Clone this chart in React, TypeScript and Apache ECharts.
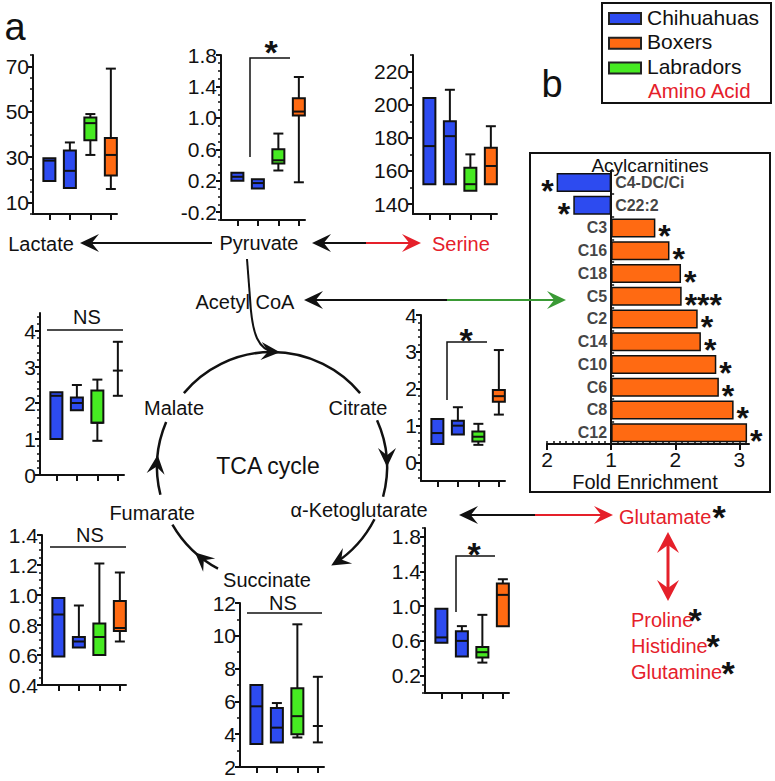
import React, { useEffect, useRef } from "react";
import * as echarts from "echarts";

const FONT = "'Liberation Sans', Arial, Helvetica, sans-serif";
const K = "#111111";
const RED = "#e5202a";
const GREEN_ARROW = "#3a9a35";

// Breed colours: Chihuahuas, Boxers, Labradors
const breedNames = ["Chihuahuas", "Boxers", "Labradors"];
const breedColors = ["#2d4bf0", "#ff6a12", "#46ea22"];

// Box plots: [slot, min, q1, median, q3, max, colourIndex]  (colourIndex -1 = whisker only)
const lactateBoxes = [
  [1, 19.5, 19.5, 28.5, 29.5, 29.5, 0],
  [2, 16.5, 16.5, 24, 33, 36.5, 0],
  [3, 31, 37.5, 45, 47.5, 49, 2],
  [4, 16, 22, 31, 38.5, 69, 1],
];
const pyruvateBoxes = [
  [1, 0.2, 0.2, 0.25, 0.3, 0.3, 0],
  [2, 0.1, 0.1, 0.17, 0.22, 0.22, 0],
  [3, 0.33, 0.42, 0.46, 0.6, 0.8, 2],
  [4, 0.18, 1.03, 1.08, 1.25, 1.52, 1],
];
const serineBoxes = [
  [1, 152, 152, 175, 204, 204, 0],
  [2, 152, 152, 181, 190, 209, 0],
  [3, 148, 148, 152, 162, 170, 2],
  [4, 152, 152, 163, 174, 187, 1],
];
const malateBoxes = [
  [1, 1.0, 1.0, 2.2, 2.3, 2.3, 0],
  [2, 1.8, 1.8, 2.0, 2.15, 2.5, 0],
  [3, 0.95, 1.45, 1.45, 2.35, 2.65, 2],
  [4, 2.2, 2.9, 2.9, 2.9, 3.7, -1],
];
const citrateBoxes = [
  [1, 0.5, 0.5, 0.8, 1.18, 1.18, 0],
  [2, 0.76, 0.76, 1.0, 1.13, 1.5, 0],
  [3, 0.48, 0.57, 0.7, 0.84, 1.05, 2],
  [4, 1.3, 1.65, 1.8, 1.97, 3.05, 1],
];
const fumarateBoxes = [
  [1, 0.59, 0.59, 0.87, 0.98, 0.98, 0],
  [2, 0.65, 0.65, 0.69, 0.72, 0.93, 0],
  [3, 0.6, 0.6, 0.72, 0.81, 1.21, 2],
  [4, 0.69, 0.76, 0.78, 0.96, 1.15, 1],
];
const succinateBoxes = [
  [1, 3.4, 3.4, 5.7, 7.0, 7.0, 0],
  [2, 3.5, 3.5, 4.4, 5.6, 5.9, 0],
  [3, 3.8, 4.0, 5.1, 6.8, 10.7, 2],
  [4, 3.5, 4.5, 4.5, 4.5, 7.5, -1],
];
const akgBoxes = [
  [1, 0.58, 0.58, 0.64, 0.97, 0.97, 0],
  [2, 0.42, 0.42, 0.6, 0.71, 0.77, 0],
  [3, 0.35, 0.41, 0.47, 0.53, 0.9, 2],
  [4, 0.77, 0.77, 1.13, 1.26, 1.31, 1],
];

// Tick labels
const lactateTicks = [10, 30, 50, 70];
const pyruvateTicks = [-0.2, 0.2, 0.6, 1.0, 1.4, 1.8];
const serineTicks = [140, 160, 180, 200, 220];
const malateTicks = [0, 1, 2, 3, 4];
const citrateTicks = [0, 1, 2, 3, 4];
const fumarateTicks = [0.4, 0.6, 0.8, 1.0, 1.2, 1.4];
const succinateTicks = [2, 4, 6, 8, 10, 12];
const akgTicks = [0.2, 0.6, 1.0, 1.4, 1.8];

// Acylcarnitines (negative = decreased, drawn to the left)
const acylNames = ["C4-DC/Ci", "C22:2", "C3", "C16", "C18", "C5", "C2", "C14", "C10", "C6", "C8", "C12"];
const acylFold = [-1.85, -1.59, 1.69, 1.91, 2.09, 2.1, 2.35, 2.4, 2.64, 2.68, 2.91, 3.12];
const acylStars = ["*", "*", "*", "*", "*", "***", "*", "*", "*", "*", "*", "*"];
const foldTicks = [-1, 0, 1, 2];

// layout of the mini panels (pixels)
const panels = [
  { boxes: lactateBoxes, ticks: lactateTicks, min: 5, max: 75, minor: 5, dec: 0, left: 33, top: 55, height: 159 },
  { boxes: pyruvateBoxes, ticks: pyruvateTicks, min: -0.3, max: 1.8, minor: 0.1, dec: 1, left: 221, top: 55, height: 165 },
  { boxes: serineBoxes, ticks: serineTicks, min: 134, max: 230, minor: 10, dec: 0, left: 413, top: 55, height: 159 },
  { boxes: malateBoxes, ticks: malateTicks, min: 0, max: 4.5, minor: 0.2, dec: 0, left: 40, top: 313, height: 162 },
  { boxes: citrateBoxes, ticks: citrateTicks, min: -0.5, max: 4, minor: 0.2, dec: 0, left: 421, top: 315, height: 166 },
  { boxes: fumarateBoxes, ticks: fumarateTicks, min: 0.4, max: 1.4, minor: 0.05, dec: 1, left: 42, top: 535, height: 150 },
  { boxes: succinateBoxes, ticks: succinateTicks, min: 2, max: 12, minor: 1, dec: 0, left: 240, top: 603, height: 164 },
  { boxes: akgBoxes, ticks: akgTicks, min: 0, max: 1.9, minor: 0.1, dec: 1, left: 425, top: 528, height: 165 },
];

function steps(min: number, max: number, step: number) {
  const out: number[] = [];
  const start = Math.ceil(min / step - 1e-6);
  for (let i = start; i * step <= max + 1e-9; i++) out.push(+(i * step).toFixed(4));
  return out;
}

function seg(x1: number, y1: number, x2: number, y2: number, color = K, w = 2) {
  return { type: "line", shape: { x1, y1, x2, y2 }, style: { stroke: color, lineWidth: w }, z: 10 };
}
function head(x: number, y: number, angDeg: number, color = K, L = 19, W = 9) {
  const a = (angDeg * Math.PI) / 180;
  const dx = Math.cos(a), dy = Math.sin(a), px = -dy, py = dx;
  const bx = x - L * dx, by = y - L * dy;
  const nx = x - 0.62 * L * dx, ny = y - 0.62 * L * dy;
  return {
    type: "polygon",
    shape: { points: [[x, y], [bx + W * px, by + W * py], [nx, ny], [bx - W * px, by - W * py]] },
    style: { fill: color },
    z: 11,
  };
}
function txt(x: number, y: number, text: string, o: any = {}) {
  const size = o.size || 20;
  return {
    type: "text",
    x,
    y,
    style: {
      text,
      fill: o.color || K,
      font: `${o.weight || "normal"} ${size}px ${FONT}`,
      textAlign: o.align || "center",
      textVerticalAlign: "middle",
      align: o.align || "center",
      verticalAlign: "middle",
      lineHeight: o.lineHeight,
    },
    z: 12,
  };
}
function star(x: number, y: number, size = 34) {
  return txt(x, y + size * 0.27, "*", { size, weight: "bold", lineHeight: 16 });
}

export default function App() {
  const ref = useRef<HTMLDivElement>(null);
  useEffect(() => {
    if (!ref.current) return;
    const chart = echarts.init(ref.current, null, { renderer: "svg", width: 775, height: 781 });

    const grids: any[] = [];
    const xAxes: any[] = [];
    const yAxes: any[] = [];
    const series: any[] = [];

    panels.forEach((p, i) => {
      grids.push({ left: p.left, top: p.top, width: 84, height: p.height });
      xAxes.push({
        type: "value",
        gridIndex: i,
        position: "bottom",
        min: 0.2,
        max: 4.3,
        axisLine: { show: true, onZero: false, lineStyle: { color: K, width: 2 } },
        axisTick: { show: true, customValues: [1, 2, 3, 4], length: 6, inside: false, lineStyle: { color: K, width: 2 } },
        axisLabel: { show: false },
        splitLine: { show: false },
      });
      const yi = yAxes.length;
      yAxes.push({
        type: "value",
        gridIndex: i,
        position: "left",
        min: p.min,
        max: p.max,
        axisLine: { show: true, onZero: false, lineStyle: { color: K, width: 2 } },
        axisTick: { show: true, customValues: p.ticks, length: 5, lineStyle: { color: K, width: 2 } },
        axisLabel: {
          show: true,
          customValues: p.ticks,
          formatter: (v: number) => v.toFixed(p.dec),
          fontSize: 21,
          fontFamily: FONT,
          color: K,
          margin: 4,
        },
        splitLine: { show: false },
      });
      yAxes.push({
        type: "value",
        gridIndex: i,
        position: "left",
        offset: 0,
        min: p.min,
        max: p.max,
        axisLine: { show: false, onZero: false },
        axisTick: { show: true, customValues: steps(p.min, p.max, p.minor), length: 3, lineStyle: { color: K, width: 1.5 } },
        axisLabel: { show: false },
        splitLine: { show: false },
      });
      series.push({
        type: "custom",
        xAxisIndex: i,
        yAxisIndex: yi,
        clip: false,
        data: p.boxes,
        renderItem: (params: any, api: any) => {
          const slot = api.value(0);
          const lo = api.value(1), q1 = api.value(2), md = api.value(3), q3 = api.value(4), hi = api.value(5);
          const ci = api.value(6);
          const x = api.coord([slot, lo])[0];
          const yLo = api.coord([slot, lo])[1];
          const yQ1 = api.coord([slot, q1])[1];
          const yMd = api.coord([slot, md])[1];
          const yQ3 = api.coord([slot, q3])[1];
          const yHi = api.coord([slot, hi])[1];
          const bw = 12, cw = 10;
          const ls = { stroke: K, lineWidth: 2 };
          const ch: any[] = [];
          if (hi > q3) {
            ch.push({ type: "line", shape: { x1: x, y1: yHi, x2: x, y2: yQ3 }, style: ls });
            ch.push({ type: "line", shape: { x1: x - cw / 2, y1: yHi, x2: x + cw / 2, y2: yHi }, style: ls });
          }
          if (lo < q1) {
            ch.push({ type: "line", shape: { x1: x, y1: yLo, x2: x, y2: yQ1 }, style: ls });
            ch.push({ type: "line", shape: { x1: x - cw / 2, y1: yLo, x2: x + cw / 2, y2: yLo }, style: ls });
          }
          if (ci >= 0) {
            ch.push({
              type: "rect",
              shape: { x: x - bw / 2, y: yQ3, width: bw, height: yQ1 - yQ3 },
              style: { fill: breedColors[ci], stroke: K, lineWidth: 2 },
            });
            ch.push({ type: "line", shape: { x1: x - bw / 2, y1: yMd, x2: x + bw / 2, y2: yMd }, style: ls });
          } else {
            ch.push({ type: "line", shape: { x1: x - cw / 2, y1: yMd, x2: x + cw / 2, y2: yMd }, style: ls });
          }
          return { type: "group", children: ch };
        },
      });
    });

    // Acylcarnitine bar chart
    const gi = grids.length;
    grids.push({ left: 547, top: 171, width: 202, height: 273 });
    const bx = xAxes.length;
    xAxes.push({
      type: "value",
      gridIndex: gi,
      position: "bottom",
      min: -1,
      max: 2.15,
      axisLine: { show: true, onZero: false, lineStyle: { color: K, width: 2 } },
      axisTick: { show: true, customValues: foldTicks, length: 6, lineStyle: { color: K, width: 2 } },
      axisLabel: {
        show: true,
        customValues: foldTicks,
        formatter: (v: number) => String(Math.abs(v) + 1),
        fontSize: 21,
        fontFamily: FONT,
        color: K,
        margin: 5,
      },
      splitLine: { show: false },
    });
    xAxes.push({
      type: "value",
      gridIndex: gi,
      position: "bottom",
      offset: 0,
      min: -1,
      max: 2.15,
      axisLine: { show: false, onZero: false },
      axisTick: { show: true, inside: true, customValues: steps(-1, 2.1, 0.1), length: 3, lineStyle: { color: K, width: 1.5 } },
      axisLabel: { show: false },
      splitLine: { show: false },
    });
    const by = yAxes.length;
    yAxes.push({
      type: "category",
      gridIndex: gi,
      data: acylNames,
      inverse: true,
      axisLine: { show: true, onZero: true, lineStyle: { color: K, width: 2 } },
      axisTick: { show: true, inside: true, length: 3, lineStyle: { color: K, width: 1.5 } },
      axisLabel: { show: false },
      splitLine: { show: false },
    });
    series.push({
      type: "bar",
      xAxisIndex: bx,
      yAxisIndex: by,
      barWidth: 19,
      data: acylFold.map((f) => ({
        value: f > 0 ? +(f - 1).toFixed(3) : +(f + 1).toFixed(3),
        itemStyle: { color: f > 0 ? breedColors[1] : breedColors[0], borderColor: K, borderWidth: 1.5 },
        label: { position: f > 0 ? "right" : "left" },
      })),
      label: {
        show: true,
        formatter: (p: any) => acylStars[p.dataIndex],
        fontSize: 32,
        fontWeight: "bold",
        fontFamily: FONT,
        color: K,
        lineHeight: 16,
        distance: 3,
        offset: [0, 8.5],
      },
      z: 3,
    });
    series.push({
      type: "scatter",
      xAxisIndex: bx,
      yAxisIndex: by,
      symbolSize: 0,
      data: acylNames.map((n, i) => ({
        value: [0, n],
        label: { position: acylFold[i] < 0 ? "right" : "left" },
      })),
      label: {
        show: true,
        distance: 4,
        formatter: (p: any) => p.value[1],
        fontSize: 16,
        fontWeight: "bold",
        fontFamily: FONT,
        color: K,
      },
      z: 4,
    });

    // Pathway diagram
    const cx = 272, cy = 467, r = 115;
    const rad = (d: number) => (d * Math.PI) / 180;
    const onC = (d: number) => [cx + r * Math.cos(rad(d)), cy + r * Math.sin(rad(d))];
    const arcs = [[-140, -40], [-24, 15], [27, 57], [118, 150], [166, 203]];
    const cycHeads = [-86, 0, 59, 132, 186];

    const g: any[] = [];
    arcs.forEach(([s, e]) =>
      g.push({
        type: "arc",
        shape: { cx, cy, r, startAngle: rad(s), endAngle: rad(e), clockwise: true },
        style: { stroke: K, lineWidth: 2.5, fill: "none" },
        z: 10,
      })
    );
    cycHeads.forEach((d) => {
      const [x, y] = onC(d);
      g.push(head(x, y, d + 90));
    });

    // Pyruvate -> Acetyl CoA -> cycle
    g.push(seg(247, 259, 250, 298, K, 2));
    g.push({
      type: "bezierCurve",
      shape: { x1: 250, y1: 298, cpx1: 252, cpy1: 335, cpx2: 258, cpy2: 350, x2: 276, y2: 353 },
      style: { stroke: K, lineWidth: 2, fill: "none" },
      z: 10,
    });

    // Pyruvate -> Lactate
    g.push(seg(212, 243, 92, 243));
    g.push(head(80, 243, 180));
    // Pyruvate <-> Serine
    g.push(seg(322, 243, 366, 243));
    g.push(seg(366, 243, 410, 243, RED));
    g.push(head(312, 243, 180));
    g.push(head(421, 243, 0, RED));
    // Acetyl CoA <-> C5
    g.push(seg(314, 300, 447, 300));
    g.push(seg(447, 300, 556, 300, GREEN_ARROW));
    g.push(head(304, 300, 180));
    g.push(head(566, 300, 0, GREEN_ARROW));
    // a-KG <-> Glutamate
    g.push(seg(469, 515, 535, 515));
    g.push(seg(535, 515, 602, 515, RED));
    g.push(head(459, 515, 180));
    g.push(head(613, 515, 0, RED));
    // Glutamate <-> Proline
    g.push(seg(668, 545, 668, 588, RED, 3));
    g.push(head(668, 532, -90, RED, 21, 11));
    g.push(head(668, 601, 90, RED, 21, 11));

    // labels
    g.push(txt(15, 27, "a", { size: 38 }));
    g.push(txt(552, 84, "b", { size: 38 }));
    g.push(txt(41, 244, "Lactate"));
    g.push(txt(259, 243, "Pyruvate"));
    g.push(txt(432, 244, "Serine", { color: RED, align: "left" }));
    g.push(txt(245, 302, "Acetyl CoA"));
    g.push(txt(174, 408, "Malate"));
    g.push(txt(358, 408, "Citrate"));
    g.push(txt(268, 466, "TCA cycle", { size: 23 }));
    g.push(txt(359, 510, "α-Ketoglutarate"));
    g.push(txt(195, 513, "Fumarate", { align: "right" }));
    g.push(txt(267, 580, "Succinate"));
    g.push(txt(619, 517, "Glutamate", { color: RED, align: "left" }));
    g.push(txt(631, 620, "Proline", { color: RED, align: "left" }));
    g.push(txt(631, 646, "Histidine", { color: RED, align: "left" }));
    g.push(txt(631, 672, "Glutamine", { color: RED, align: "left" }));
    g.push(star(719, 508));
    g.push(star(695, 611));
    g.push(star(713, 637));
    g.push(star(728, 664));

    // significance annotations
    g.push({ type: "polyline", shape: { points: [[250, 157], [250, 58], [290, 58]] }, style: { stroke: K, lineWidth: 1.5, fill: "none" }, z: 10 });
    g.push(star(271, 43));
    g.push({ type: "polyline", shape: { points: [[447, 400], [447, 342], [487, 342]] }, style: { stroke: K, lineWidth: 1.5, fill: "none" }, z: 10 });
    g.push(star(466, 331));
    g.push({ type: "polyline", shape: { points: [[456, 612], [456, 556], [495, 556]] }, style: { stroke: K, lineWidth: 1.5, fill: "none" }, z: 10 });
    g.push(star(474, 545));
    g.push(seg(47, 330, 123, 330, K, 1.5));
    g.push(txt(87, 317, "NS"));
    g.push(seg(50, 547, 126, 547, K, 1.5));
    g.push(txt(90, 535, "NS"));
    g.push(seg(247, 613, 322, 613, K, 1.5));
    g.push(txt(283, 603, "NS"));

    // acylcarnitine frame
    g.push({ type: "rect", shape: { x: 530, y: 153, width: 240, height: 339 }, style: { fill: "none", stroke: K, lineWidth: 2 }, z: 9 });
    g.push(txt(650, 165, "Acylcarnitines", { size: 19 }));
    g.push(txt(645, 482, "Fold Enrichment", { size: 20 }));

    // legend
    g.push({ type: "rect", shape: { x: 602, y: 3, width: 169, height: 100 }, style: { fill: "#fff", stroke: K, lineWidth: 2 }, z: 9 });
    breedNames.forEach((n, i) => {
      const y = 18 + i * 24.7;
      g.push({ type: "rect", shape: { x: 609, y: y - 5, width: 32, height: 11 }, style: { fill: breedColors[i], stroke: "#222", lineWidth: 2 }, z: 10 });
      g.push(txt(647, y - 1, n, { align: "left", size: 21 }));
    });
    g.push(txt(648, 90, "Amino Acid", { align: "left", color: RED, size: 20.5 }));

    chart.setOption({
      animation: false,
      backgroundColor: "#ffffff",
      grid: grids,
      xAxis: xAxes,
      yAxis: yAxes,
      series,
      graphic: { elements: g },
    });
    return () => chart.dispose();
  }, []);
  return <div ref={ref} style={{ position: "absolute", left: 0, top: 0, width: 775, height: 781, background: "#fff" }} />;
}
